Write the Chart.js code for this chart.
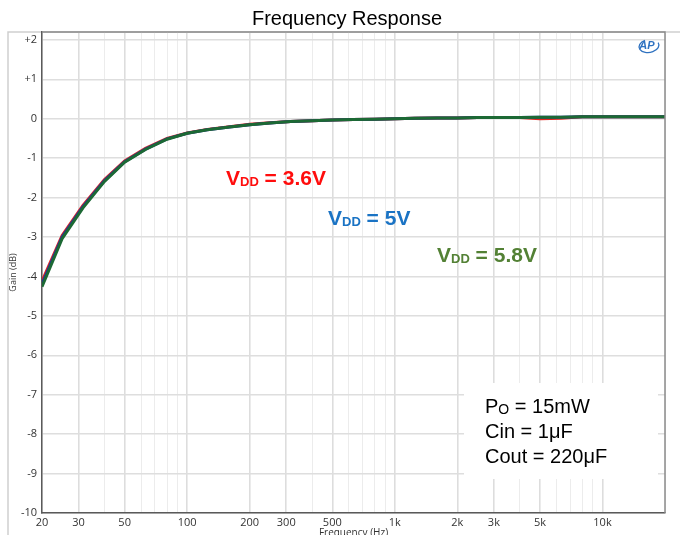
<!DOCTYPE html>
<html>
<head>
<meta charset="utf-8">
<title>Frequency Response</title>
<script src="https://cdn.jsdelivr.net/npm/chart.js@4/dist/chart.umd.min.js"></script>
<style>
  html, body { margin: 0; padding: 0; background: #fff; }
  #wrap { width: 680px; height: 535px; position: relative; }
</style>
</head>
<body>
<div id="wrap"><canvas id="fr"></canvas></div>
<script>
// 1/3-octave measurement points (Hz)
const freqs = [20, 25, 31.5, 40, 50, 63, 80, 100, 125, 160, 200, 250, 315, 400, 500, 630, 800,
  1000, 1250, 1600, 2000, 2500, 3150, 4000, 5000, 6300, 8000, 10000, 12500, 16000, 20000];

// gain in dB for each supply voltage
const gain36 = [-4.12, -2.96, -2.20, -1.54, -1.07, -0.75, -0.50, -0.36, -0.27, -0.20, -0.14, -0.10, -0.07, -0.05, -0.03, -0.02, -0.01,
  0.00, 0.01, 0.02, 0.02, 0.03, 0.03, 0.03, 0.00, 0.01, 0.05, 0.05, 0.05, 0.05, 0.05];
const gain50 = [-4.19, -3.00, -2.23, -1.57, -1.09, -0.77, -0.51, -0.37, -0.28, -0.21, -0.15, -0.11, -0.07, -0.05, -0.03, -0.02, -0.01,
  0.00, 0.01, 0.02, 0.02, 0.03, 0.03, 0.03, 0.04, 0.04, 0.05, 0.05, 0.05, 0.05, 0.05];
const gain58 = [-4.26, -3.04, -2.26, -1.59, -1.10, -0.78, -0.52, -0.37, -0.28, -0.21, -0.15, -0.11, -0.07, -0.05, -0.03, -0.02, -0.01,
  0.00, 0.01, 0.02, 0.02, 0.03, 0.03, 0.03, 0.04, 0.04, 0.05, 0.05, 0.05, 0.05, 0.05];

// x grid lines and which of them get a label
const xGrid = [20, 30, 40, 50, 60, 70, 80, 90, 100, 200, 300, 400, 500, 600, 700, 800, 900,
  1000, 2000, 3000, 4000, 5000, 6000, 7000, 8000, 9000, 10000, 20000];
const xLabels = { 20: '20', 30: '30', 50: '50', 100: '100', 200: '200', 300: '300', 500: '500',
  1000: '1k', 2000: '2k', 3000: '3k', 5000: '5k', 10000: '10k' };
const yTicks = [2, 1, 0, -1, -2, -3, -4, -5, -6, -7, -8, -9, -10];

// later traces sit on top (green last)
const series = [
  { name: 'VDD = 3.6V', data: gain36, color: '#e3261f', order: 3 },
  { name: 'VDD = 5V',   data: gain50, color: '#23339a', order: 2 },
  { name: 'VDD = 5.8V', data: gain58, color: '#1c6934', order: 1 }
];

const tickFont = { family: '"Open Sans", sans-serif', size: 11 };

// text with a subscript part: V + DD + " = 3.6V"
function subText(ctx, x, y, main, sub, rest, color, size, subSize, weight) {
  ctx.save();
  ctx.fillStyle = color;
  ctx.textBaseline = 'alphabetic';
  ctx.textAlign = 'left';
  ctx.font = `${weight} ${size}px "Liberation Sans", Arial, sans-serif`;
  ctx.fillText(main, x, y);
  x += ctx.measureText(main).width;
  ctx.font = `${weight} ${subSize}px "Liberation Sans", Arial, sans-serif`;
  ctx.fillText(sub, x, y + 1);
  x += ctx.measureText(sub).width;
  ctx.font = `${weight} ${size}px "Liberation Sans", Arial, sans-serif`;
  ctx.fillText(rest, x, y);
  ctx.restore();
}

const decor = {
  id: 'decor',
  beforeDraw(chart) {
    const ctx = chart.ctx;
    ctx.save();
    ctx.fillStyle = '#fff';
    ctx.fillRect(0, 0, chart.width, chart.height);
    // outer frame
    ctx.strokeStyle = '#cfcfcf';
    ctx.lineWidth = 1.5;
    ctx.beginPath();
    ctx.moveTo(8, chart.height);
    ctx.lineTo(8, 32);
    ctx.lineTo(chart.width, 32);
    ctx.stroke();
    ctx.restore();
  },
  beforeDatasetsDraw(chart) {
    const ctx = chart.ctx;
    ctx.save();
    // parameter box over the grid
    ctx.fillStyle = '#fff';
    ctx.fillRect(464, 383, 194, 96);
    subText(ctx, 485, 413, 'P', 'O', ' = 15mW', '#000', 20, 14, 'normal');
    ctx.fillStyle = '#000';
    ctx.font = '20px "Liberation Sans", Arial, sans-serif';
    ctx.fillText('Cin = 1μF', 485, 438);
    ctx.fillText('Cout = 220μF', 485, 463);
    ctx.restore();
  },
  afterDraw(chart) {
    const ctx = chart.ctx;
    const a = chart.chartArea;
    ctx.save();
    // top and right plot border
    ctx.strokeStyle = '#8a8a8a';
    ctx.lineWidth = 1.5;
    ctx.beginPath();
    ctx.moveTo(a.left, a.top);
    ctx.lineTo(a.right, a.top);
    ctx.lineTo(a.right, a.bottom);
    ctx.stroke();

    // title
    ctx.fillStyle = '#000';
    ctx.font = '20px "Liberation Sans", Arial, sans-serif';
    ctx.textAlign = 'center';
    ctx.textBaseline = 'middle';
    ctx.fillText('Frequency Response', 347, 19);

    // axis titles
    ctx.fillStyle = '#333';
    ctx.font = '10px "Open Sans", sans-serif';
    ctx.textBaseline = 'top';
    ctx.fillText('Frequency (Hz)', (a.left + a.right) / 2, 528);
    ctx.save();
    ctx.translate(13, (a.top + a.bottom) / 2);
    ctx.rotate(-Math.PI / 2);
    ctx.textBaseline = 'middle';
    ctx.font = '9px "Open Sans", sans-serif';
    ctx.fillText('Gain (dB)', 0, 0);
    ctx.restore();

    // curve labels
    subText(ctx, 226, 185, 'V', 'DD', ' = 3.6V', '#ff0d0d', 21, 13, 'bold');
    subText(ctx, 328, 225, 'V', 'DD', ' = 5V', '#1a73c4', 21, 13, 'bold');
    subText(ctx, 437, 262, 'V', 'DD', ' = 5.8V', '#538135', 21, 13, 'bold');

    // AP mark
    ctx.strokeStyle = '#2f72c0';
    ctx.lineWidth = 1.3;
    ctx.beginPath();
    ctx.ellipse(649, 46, 10, 6.5, -0.15, -0.3, Math.PI * 1.4);
    ctx.stroke();
    ctx.fillStyle = '#2f72c0';
    ctx.font = 'italic bold 11px "Liberation Sans", Arial, sans-serif';
    ctx.textAlign = 'center';
    ctx.textBaseline = 'middle';
    ctx.fillText('AP', 647, 46);
    ctx.restore();
  }
};

new Chart(document.getElementById('fr'), {
  type: 'line',
  data: {
    datasets: series.map(s => ({
      label: s.name,
      data: freqs.map((f, i) => ({ x: f, y: s.data[i] })),
      borderColor: s.color,
      borderWidth: 3,
      pointRadius: 0,
      tension: 0,
      fill: false,
      order: s.order
    }))
  },
  options: {
    responsive: true,
    maintainAspectRatio: false,
    animation: false,
    layout: { padding: { left: 0, right: 15, top: 32, bottom: 0 } },
    plugins: { legend: { display: false }, title: { display: false }, tooltip: { enabled: false } },
    scales: {
      x: {
        type: 'logarithmic',
        min: 20,
        max: 20000,
        afterBuildTicks: sc => { sc.ticks = xGrid.map(v => ({ value: v })); },
        afterFit: sc => { sc.height = 22; },
        ticks: {
          autoSkip: false,
          maxRotation: 0,
          padding: 3,
          color: '#333',
          font: tickFont,
          callback: v => xLabels[v] || ''
        },
        grid: {
          drawTicks: false,
          color: c => xLabels[c.tick.value] ? '#dddddd' : '#ececec',
          lineWidth: c => xLabels[c.tick.value] ? 1.6 : 1
        },
        border: { color: '#5a5a5a', width: 1.5 }
      },
      y: {
        min: -10,
        max: 2.2,
        afterBuildTicks: sc => { sc.ticks = yTicks.map(v => ({ value: v })); },
        afterFit: sc => { sc.width = 42; },
        ticks: {
          padding: 5,
          color: '#333',
          font: tickFont,
          callback: v => (v > 0 ? '+' + v : String(v))
        },
        grid: { drawTicks: false, color: '#dedede', lineWidth: 1.5 },
        border: { color: '#5a5a5a', width: 1.5 }
      }
    }
  },
  plugins: [decor]
});
</script>
</body>
</html>
